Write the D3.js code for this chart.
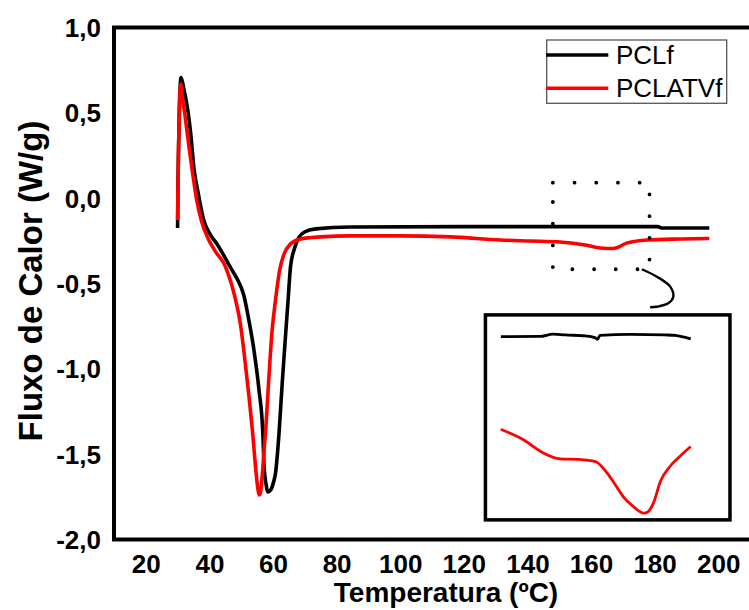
<!DOCTYPE html>
<html>
<head>
<meta charset="utf-8">
<script src="https://cdn.jsdelivr.net/npm/d3@7"></script>
<style>
  html, body { margin: 0; padding: 0; background: #fff; }
  svg { display: block; }
  text { font-family: "Liberation Sans", Arial, sans-serif; }
</style>
</head>
<body>
<svg id="chart" width="749" height="610"></svg>
<script>
// ---- data ----
const tempPCLf = [30.0, 30.1, 30.3, 30.55, 31.1, 31.9, 33.2, 34.1, 35.2, 36.3, 38.2, 40.4, 42.6, 46.7, 48.9, 50.8, 52.4, 54.0, 55.6, 56.8, 57.2, 57.85, 58.3, 59.3, 60.2, 60.8, 61.9, 62.9, 64.0, 64.75, 65.5, 66.8, 68.05, 69.9, 73.4, 84.4, 120, 147, 181, 182.4, 197.2];
const fluxPCLf = [-0.175, 0.05, 0.28, 0.52, 0.707, 0.646, 0.517, 0.382, 0.165, 0.048, -0.128, -0.216, -0.274, -0.409, -0.479, -0.567, -0.714, -0.889, -1.124, -1.375, -1.575, -1.68, -1.721, -1.709, -1.662, -1.61, -1.376, -1.083, -0.790, -0.596, -0.403, -0.292, -0.233, -0.198, -0.180, -0.169, -0.167, -0.167, -0.167, -0.175, -0.175];

const tempPCLATVf = [30.0, 30.1, 30.3, 30.6, 31.0, 31.4, 32.3, 33.5, 34.8, 36.0, 37.6, 39.5, 42.0, 44.8, 47.0, 48.6, 49.8, 50.8, 52.4, 53.6, 54.6, 55.2, 55.65, 56.1, 56.75, 57.7, 58.6, 59.6, 60.8, 62.1, 63.35, 65.5, 68.7, 75.0, 84.4, 100, 115.8, 131.5, 140.9, 150.3, 158.2, 162.9, 167.0, 171.4, 177.7, 188.1, 197.2];
const fluxPCLATVf = [-0.128, 0.05, 0.30, 0.55, 0.669, 0.606, 0.488, 0.312, 0.136, -0.011, -0.139, -0.233, -0.315, -0.391, -0.508, -0.626, -0.743, -0.889, -1.153, -1.376, -1.592, -1.697, -1.739, -1.721, -1.592, -1.358, -1.083, -0.802, -0.596, -0.421, -0.333, -0.268, -0.239, -0.227, -0.221, -0.221, -0.227, -0.245, -0.251, -0.257, -0.274, -0.292, -0.295, -0.262, -0.245, -0.239, -0.236];

// inset (magnified region)
const insetTempPCLf = [148.4, 154.5, 156.5, 158.4, 161.5, 163.1, 163.4, 163.8, 168.5, 173.9, 175.5, 176.7, 177.9];
const insetFluxPCLf = [-0.1691, -0.1689, -0.1669, -0.1676, -0.1684, -0.1702, -0.1715, -0.1680, -0.1671, -0.1676, -0.1680, -0.1693, -0.1711];
const insetTempPCLATVf = [148.4, 151.9, 155.0, 157.6, 160.3, 163.1, 164.9, 166.2, 167.4, 169.0, 170.6, 171.3, 172.1, 173.2, 174.7, 176.2, 177.9];
const insetFluxPCLATVf = [-0.2504, -0.2597, -0.2712, -0.2764, -0.2769, -0.2788, -0.2887, -0.2993, -0.3095, -0.3183, -0.3241, -0.3227, -0.3153, -0.2960, -0.2829, -0.2743, -0.2656];

const xTicks = [20, 40, 60, 80, 100, 120, 140, 160, 180, 200];
const yTicks = [-2.0, -1.5, -1.0, -0.5, 0.0, 0.5, 1.0];
const seriesNames = ["PCLf", "PCLATVf"];
const seriesColors = ["#000000", "#ff0000"];

// annotation regions in data coordinates
const zoomBoxT = [148, 178.4];
const zoomBoxV = [-0.4165, 0.091];
const connectorT = [176.0, 180.7, 184.9, 185.9, 184.3, 180.7, 178.6];
const connectorV = [-0.4165, -0.46, -0.518, -0.577, -0.616, -0.636, -0.639];
const insetBoxT = [126.8, 203.7];
const insetBoxV = [-1.885, -0.684];
const insetXDomain = [146, 184];
const insetYDomain = [-0.33, -0.15];

// ---- layout ----
const svg = d3.select("#chart");
const mLeft = 114, mTop = 27.5, mRight = 750, mBottom = 539.5;
const x = d3.scaleLinear().domain([10, 210]).range([mLeft, mRight]);
const y = d3.scaleLinear().domain([-2, 1]).range([mBottom, mTop]);
const fmt = v => v.toFixed(1).replace(".", ",");

// axes (labels only)
const gx = svg.append("g").attr("transform", `translate(0,${mBottom})`)
  .call(d3.axisBottom(x).tickValues(xTicks).tickSize(0).tickPadding(0).tickFormat(d3.format("d")));
gx.select(".domain").remove();
gx.selectAll("text").attr("y", 33.8).attr("dy", null)
  .style("font-size", "26px").style("font-weight", "bold").attr("fill", "#000");

const gy = svg.append("g").attr("transform", `translate(${mLeft},0)`)
  .call(d3.axisLeft(y).tickValues(yTicks).tickSize(0).tickFormat(fmt));
gy.select(".domain").remove();
gy.selectAll("text").attr("x", -13).attr("dy", "0.34em")
  .style("font-size", "26px").style("font-weight", "bold").attr("fill", "#000");

// frame
svg.append("path")
  .attr("d", `M${mRight + 5},${mTop}H${mLeft}V${mBottom}H${mRight + 5}`)
  .attr("fill", "none").attr("stroke", "#000").attr("stroke-width", 4);

// axis titles
svg.append("text").attr("x", 446).attr("y", 601.5).attr("text-anchor", "middle")
  .style("font-size", "28px").style("font-weight", "bold").text("Temperatura (ºC)");
svg.append("text").attr("transform", "translate(41.5,281) rotate(-90)").attr("text-anchor", "middle")
  .style("font-size", "33px").style("font-weight", "bold").text("Fluxo de Calor (W/g)");

// main curves
const line = d3.line().x(d => x(d[0])).y(d => y(d[1])).curve(d3.curveMonotoneX);
const seriesData = [
  d3.zip(tempPCLf, fluxPCLf),
  d3.zip(tempPCLATVf, fluxPCLATVf)
];
seriesData.forEach((s, i) => {
  svg.append("path").datum(s).attr("d", line)
    .attr("fill", "none").attr("stroke", seriesColors[i]).attr("stroke-width", 3.6)
    .attr("stroke-linejoin", "round").attr("stroke-linecap", "butt");
});

// dotted zoom box
svg.append("rect")
  .attr("x", x(zoomBoxT[0])).attr("y", y(zoomBoxV[1]))
  .attr("width", x(zoomBoxT[1]) - x(zoomBoxT[0]))
  .attr("height", y(zoomBoxV[0]) - y(zoomBoxV[1]))
  .attr("fill", "none").attr("stroke", "#000").attr("stroke-width", 3.8)
  .attr("stroke-linecap", "round").attr("stroke-dasharray", "0 21.7");

// connector
svg.append("path").datum(d3.zip(connectorT, connectorV))
  .attr("d", d3.line().x(d => x(d[0])).y(d => y(d[1])).curve(d3.curveCatmullRom))
  .attr("fill", "none").attr("stroke", "#000").attr("stroke-width", 2.4);

// inset
const ix0 = x(insetBoxT[0]), ix1 = x(insetBoxT[1]);
const iy0 = y(insetBoxV[1]), iy1 = y(insetBoxV[0]);
svg.append("rect").attr("x", ix0).attr("y", iy0).attr("width", ix1 - ix0).attr("height", iy1 - iy0)
  .attr("fill", "#fff").attr("stroke", "#000").attr("stroke-width", 3.5);
const ixs = d3.scaleLinear().domain(insetXDomain).range([ix0, ix1]);
const iys = d3.scaleLinear().domain(insetYDomain).range([iy1, iy0]);
const iline = d3.line().x(d => ixs(d[0])).y(d => iys(d[1])).curve(d3.curveMonotoneX);
[d3.zip(insetTempPCLf, insetFluxPCLf), d3.zip(insetTempPCLATVf, insetFluxPCLATVf)].forEach((s, i) => {
  svg.append("path").datum(s).attr("d", iline)
    .attr("fill", "none").attr("stroke", seriesColors[i]).attr("stroke-width", 2.8)
    .attr("stroke-linejoin", "round");
});

// legend
const lg = svg.append("g");
lg.append("rect").attr("x", 546.7).attr("y", 40).attr("width", 180).attr("height", 63.3)
  .attr("fill", "none").attr("stroke", "#555").attr("stroke-width", 1.3);
seriesNames.forEach((n, i) => {
  const yy = 55 + i * 33.3;
  lg.append("line").attr("x1", 546).attr("x2", 608.3).attr("y1", yy).attr("y2", yy)
    .attr("stroke", seriesColors[i]).attr("stroke-width", 3.6);
  lg.append("text").attr("x", 616).attr("y", yy + 8.5)
    .style("font-size", "26px").attr("fill", "#000").text(n);
});
</script>
</body>
</html>
